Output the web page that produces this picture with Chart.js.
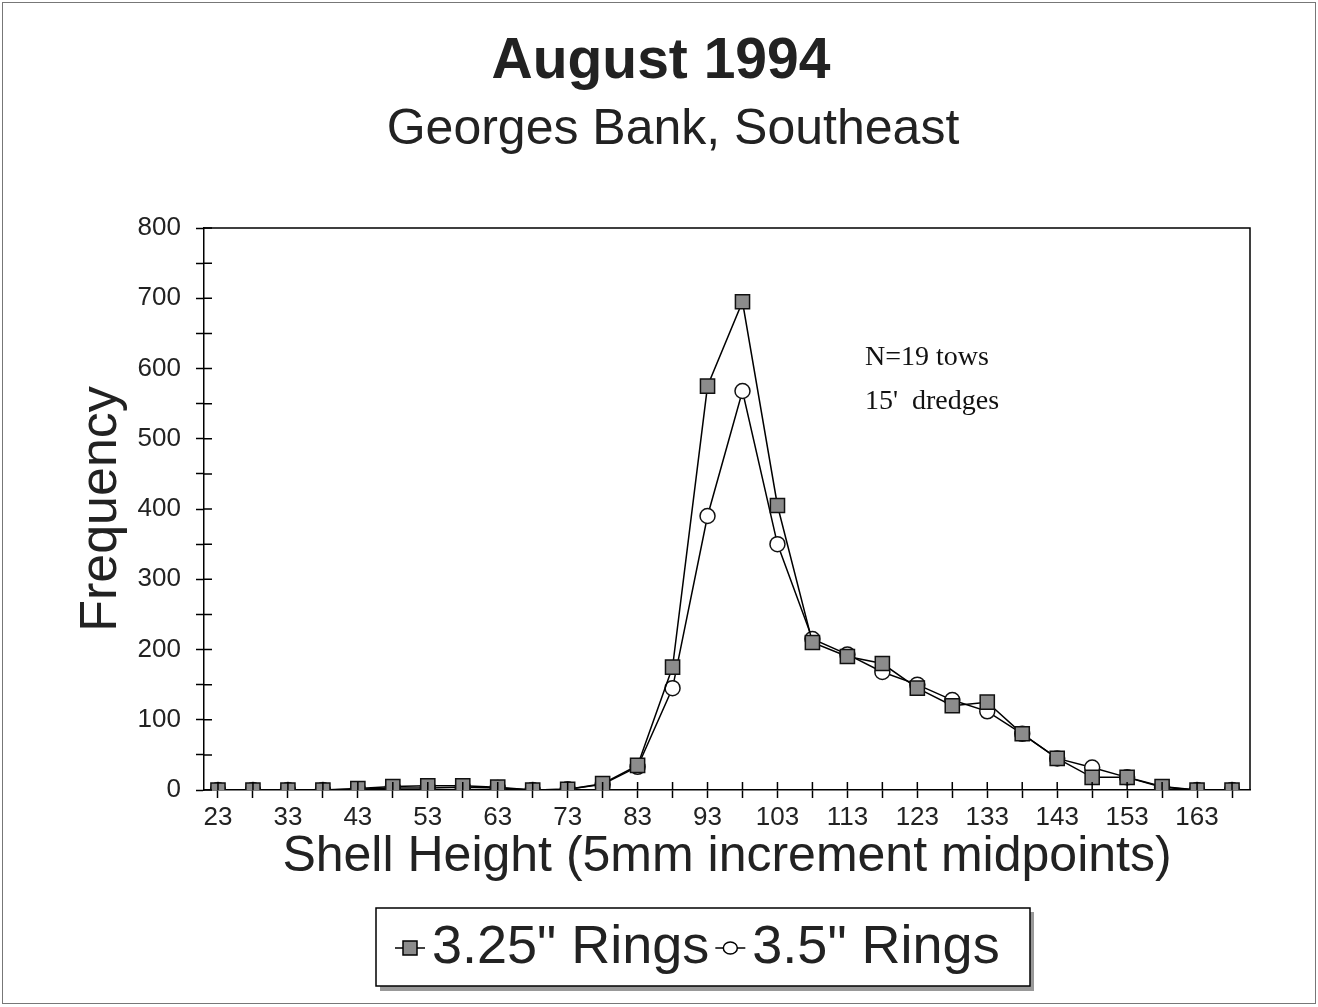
<!DOCTYPE html>
<html>
<head>
<meta charset="utf-8">
<script src="https://cdn.jsdelivr.net/npm/chart.js@4/dist/chart.umd.min.js"></script>
<style>
  html, body { margin: 0; padding: 0; background: #fff; }
  #wrap { width: 1318px; height: 1007px; position: relative; }
</style>
</head>
<body>
<div id="wrap"><canvas id="ShellChart"></canvas></div>
<script>
// shell height midpoints (mm), 5mm bins
const shellHeights = [23, 28, 33, 38, 43, 48, 53, 58, 63, 68, 73, 78, 83, 88, 93,
                      98, 103, 108, 113, 118, 123, 128, 133, 138, 143, 148, 153, 158, 163, 168];
const rings325 = [0, 0, 0, 0, 2, 5, 6, 6, 4, 0, 1, 9, 35, 175, 575,
                  695, 405, 210, 190, 180, 145, 120, 125, 80, 45, 18, 18, 5, 0, 0];
const rings35 = [0, 0, 0, 0, 1, 3, 3, 4, 3, 0, 1, 8, 33, 145, 390,
                 568, 350, 215, 193, 168, 150, 128, 112, 80, 45, 32, 18, 4, 0, 0];
const seriesLabels = ['3.25" Rings', '3.5" Rings'];
const yTicks = [0, 100, 200, 300, 400, 500, 600, 700, 800];
const noteLines = ["N=19 tows", "15'  dredges"];

const sansFont = "'Liberation Sans', Arial, sans-serif";

// titles, frame, plot box, inward tick halves, note and legend box
const decorPlugin = {
    id: "decor",
    beforeDraw(chart) {
        const ctx = chart.ctx;
        ctx.save();
        ctx.fillStyle = "#fff";
        ctx.fillRect(0, 0, chart.width, chart.height);
        ctx.strokeStyle = "#777";
        ctx.lineWidth = 1;
        ctx.strokeRect(2.5, 2.5, chart.width - 5, chart.height - 6);
        ctx.restore();
    },
    afterDraw(chart) {
        const ctx = chart.ctx;
        const area = chart.chartArea;
        const xs = chart.scales.x;
        const ys = chart.scales.y;
        ctx.save();

        // titles
        ctx.fillStyle = "#222";
        ctx.textAlign = "center";
        ctx.textBaseline = "middle";
        ctx.font = "bold 57px " + sansFont;
        ctx.fillText("August 1994", 661, 62);
        ctx.font = "50px " + sansFont;
        ctx.fillText("Georges Bank, Southeast", 673, 130);

        // plot box top & right
        ctx.strokeStyle = "#000";
        ctx.lineWidth = 1.5;
        ctx.beginPath();
        ctx.moveTo(area.left, area.top);
        ctx.lineTo(area.right, area.top);
        ctx.lineTo(area.right, area.bottom);
        ctx.stroke();

        // inward halves of ticks
        ctx.beginPath();
        xs.ticks.forEach(t => {
            const px = xs.getPixelForValue(t.value);
            ctx.moveTo(px, area.bottom);
            ctx.lineTo(px, area.bottom - 8);
        });
        ys.ticks.forEach(t => {
            const py = ys.getPixelForValue(t.value);
            ctx.moveTo(area.left, py);
            ctx.lineTo(area.left + 8, py);
        });
        ctx.stroke();

        // note
        ctx.fillStyle = "#111";
        ctx.textAlign = "left";
        ctx.font = "28px 'Liberation Serif', 'Times New Roman', serif";
        ctx.fillText(noteLines[0], 865, 358);
        ctx.fillText(noteLines[1], 865, 402);

        // legend box with shadow
        const bx = 376, by = 908, bw = 654, bh = 78;
        ctx.fillStyle = "#999";
        ctx.fillRect(bx + 4, by + bh, bw, 5);
        ctx.fillRect(bx + bw, by + 4, 4, bh);
        ctx.strokeStyle = "#000";
        ctx.lineWidth = 1.5;
        ctx.strokeRect(bx, by, bw, bh);

        let lx = bx + 19;
        const ly = by + bh / 2 + 1;
        ctx.font = "54px " + sansFont;
        ctx.textBaseline = "middle";
        chart.data.datasets.forEach(ds => {
            ctx.strokeStyle = "#000";
            ctx.lineWidth = 1.5;
            ctx.beginPath();
            ctx.moveTo(lx, ly);
            ctx.lineTo(lx + 30, ly);
            ctx.stroke();
            const cx = lx + 15;
            if (ds.pointStyle === "rect") {
                ctx.fillStyle = ds.pointBackgroundColor;
                ctx.fillRect(cx - 7, ly - 7, 14, 14);
                ctx.strokeRect(cx - 7, ly - 7, 14, 14);
            } else {
                ctx.fillStyle = "#fff";
                ctx.beginPath();
                ctx.ellipse(cx, ly, 7, 6, 0, 0, Math.PI * 2);
                ctx.fill();
                ctx.stroke();
            }
            ctx.fillStyle = "#222";
            ctx.fillText(ds.label, lx + 37, ly);
            lx += 37 + ctx.measureText(ds.label).width + 6;
        });
        ctx.restore();
    }
};

const shell_chart_context = document.getElementById("ShellChart").getContext("2d");
new Chart(shell_chart_context, {
    type: "line",
    data: {
        datasets: [{
            label: seriesLabels[0],
            data: shellHeights.map((h, i) => ({ x: h, y: rings325[i] })),
            borderColor: "#000",
            borderWidth: 1.5,
            pointStyle: "rect",
            pointRadius: 10,
            pointBackgroundColor: "#8c8c8c",
            pointBorderColor: "#111",
            pointBorderWidth: 1.5,
            tension: 0
        }, {
            label: seriesLabels[1],
            data: shellHeights.map((h, i) => ({ x: h, y: rings35[i] })),
            borderColor: "#000",
            borderWidth: 1.5,
            pointStyle: "circle",
            pointRadius: 7.5,
            pointBackgroundColor: "#fff",
            pointBorderColor: "#111",
            pointBorderWidth: 1.5,
            tension: 0
        }]
    },
    options: {
        responsive: true,
        maintainAspectRatio: false,
        animation: false,
        layout: { padding: { left: 0, top: 228, right: 68, bottom: 107 } },
        plugins: {
            legend: { display: false },
            title: { display: false },
            tooltip: { enabled: false }
        },
        scales: {
            x: {
                type: "linear",
                min: 21,
                max: 170.57,
                afterBuildTicks: scale => {
                    scale.ticks = shellHeights.map(v => ({ value: v }));
                },
                afterFit: scale => { scale.height = 110; },
                ticks: {
                    autoSkip: false,
                    maxRotation: 0,
                    padding: 4,
                    color: "#222",
                    font: { family: sansFont, size: 26 },
                    callback: v => ((v - 23) % 10 === 0 ? String(v) : "")
                },
                grid: { drawOnChartArea: false, tickLength: 8, tickColor: "#000", tickWidth: 1.5 },
                border: { display: true, color: "#000", width: 1.5 },
                title: {
                    display: true,
                    text: "Shell Height (5mm increment midpoints)",
                    color: "#222",
                    font: { family: sansFont, size: 50, lineHeight: 1.2 },
                    padding: { top: 0, bottom: 13 }
                }
            },
            y: {
                min: 0,
                max: 800,
                afterFit: scale => { scale.width = 204; },
                ticks: {
                    stepSize: 50,
                    padding: 15,
                    color: "#222",
                    font: { family: sansFont, size: 26 },
                    callback: v => (yTicks.includes(v) ? String(v) : "")
                },
                grid: { drawOnChartArea: false, tickLength: 8, tickColor: "#000", tickWidth: 1.5 },
                border: { display: true, color: "#000", width: 1.5 },
                title: {
                    display: true,
                    text: "Frequency",
                    color: "#222",
                    font: { family: sansFont, size: 52, lineHeight: 1.2 },
                    padding: { top: 70, bottom: 0 }
                }
            }
        }
    },
    plugins: [decorPlugin]
});
</script>
</body>
</html>
